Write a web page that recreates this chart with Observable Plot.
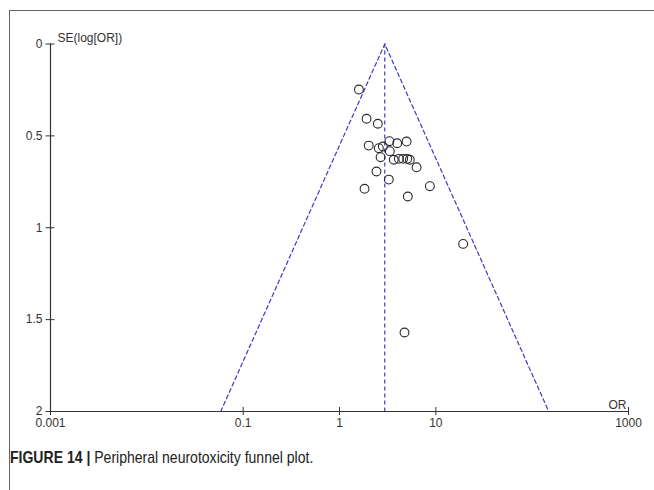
<!DOCTYPE html>
<html>
<head>
<meta charset="utf-8">
<script src="https://cdn.jsdelivr.net/npm/d3@7"></script>
<script src="https://cdn.jsdelivr.net/npm/@observablehq/plot@0.6"></script>
<style>
  html, body { margin: 0; padding: 0; background: #fff; }
  #wrap { position: relative; width: 654px; height: 490px; overflow: hidden; }
  #frame { position: absolute; left: 9px; top: 10px; width: 700px; height: 600px;
           border-top: 1.5px solid #666; border-left: 1.5px solid #666; }
  #chart { position: absolute; left: 0; top: 0; }
  #caption { position: absolute; left: 10px; top: 448px; font-family: "Liberation Sans", Arial, sans-serif;
             font-size: 16.5px; color: #222; white-space: nowrap; transform: scaleX(0.85); transform-origin: 0 0; }
  #caption b { font-weight: bold; }
</style>
</head>
<body>
<div id="wrap">
  <div id="frame"></div>
  <div id="chart"></div>
  <div id="caption"><b>FIGURE 14</b> <b>|</b> Peripheral neurotoxicity funnel plot.</div>
</div>
<script>
// Study odds ratios and standard errors of log(OR)
const studyOR = [1.59, 1.91, 2.50, 2.01, 2.56, 2.82, 3.30, 3.97, 4.97, 3.33, 2.67, 3.66,
                 4.13, 4.58, 5.05, 5.37, 6.31, 2.42, 3.25, 1.82, 8.67, 5.12, 19.2, 4.73];
const studySE = [0.248, 0.407, 0.434, 0.553, 0.567, 0.558, 0.529, 0.540, 0.531, 0.583, 0.616, 0.630,
                 0.625, 0.625, 0.625, 0.630, 0.671, 0.694, 0.738, 0.788, 0.774, 0.830, 1.088, 1.570];
const pooledOR = 2.95;
const seMax = 2;
const z = 1.96;
const xTicks = [0.001, 0.1, 1, 10, 1000];
const xTickLabels = ["0.001", "0.1", "1", "10", "1000"];
const yTicks = [0, 0.5, 1, 1.5, 2];
const yTickLabels = ["0", "0.5", "1", "1.5", "2"];

const studies = studyOR.map((or, i) => ({or, se: studySE[i]}));
const funnel = [
  {or: pooledOR * Math.exp(-z * seMax), se: seMax},
  {or: pooledOR, se: 0},
  {or: pooledOR * Math.exp(z * seMax), se: seMax}
];

const axisColor = "#333";
const dashColor = "#3a3ac8";
const W = 654, H = 440;

const chart = Plot.plot({
  width: W,
  height: H,
  marginLeft: 50,
  marginRight: 26,
  marginTop: 43.5,
  marginBottom: 29,
  style: {fontFamily: "'Liberation Sans', Arial, sans-serif", fontSize: "12px", color: axisColor, background: "transparent"},
  x: {type: "log", domain: [0.001, 1000], label: null},
  y: {domain: [0, 2], reverse: true, label: null},
  marks: [
    // axis lines
    Plot.ruleX([0.001], {y1: 0, y2: 2, stroke: axisColor, strokeWidth: 1.2}),
    Plot.ruleY([2], {x1: 0.001, x2: 1000, stroke: axisColor, strokeWidth: 1.2}),
    // crossing ticks
    Plot.ruleX(xTicks, {x: d => d, y1: 2, y2: 2, insetTop: -4, insetBottom: -4, stroke: axisColor}),
    Plot.ruleY(yTicks, {y: d => d, x1: 0.001, x2: 0.001, insetLeft: -4.5, insetRight: -4.5, stroke: axisColor}),
    // tick labels
    Plot.axisX({ticks: xTicks, tickSize: 0, tickPadding: 7, label: null, tickFormat: d => xTickLabels[xTicks.indexOf(d)], fill: axisColor}),
    Plot.axisY({ticks: yTicks, tickSize: 0, tickPadding: 8, label: null, tickFormat: d => yTickLabels[yTicks.indexOf(d)], fill: axisColor}),
    // axis titles
    Plot.text(["SE(log[OR])"], {x: 0.001, y: 0, dx: 7, dy: -2, textAnchor: "start", lineAnchor: "bottom", fill: axisColor}),
    Plot.text(["OR"], {x: 1000, y: 2, dx: -11, dy: -3, textAnchor: "middle", lineAnchor: "bottom", fill: axisColor}),
    // funnel
    Plot.line(funnel, {x: "or", y: "se", stroke: dashColor, strokeWidth: 1.2, strokeDasharray: "4,3"}),
    Plot.ruleX([pooledOR], {y1: 0, y2: seMax, stroke: dashColor, strokeWidth: 1.2, strokeDasharray: "4,3"}),
    // studies
    Plot.dot(studies, {x: "or", y: "se", r: 4.4, stroke: "#2a2a2a", strokeWidth: 1.1, fill: "none"})
  ]
});
document.getElementById("chart").appendChild(chart);
</script>
</body>
</html>
